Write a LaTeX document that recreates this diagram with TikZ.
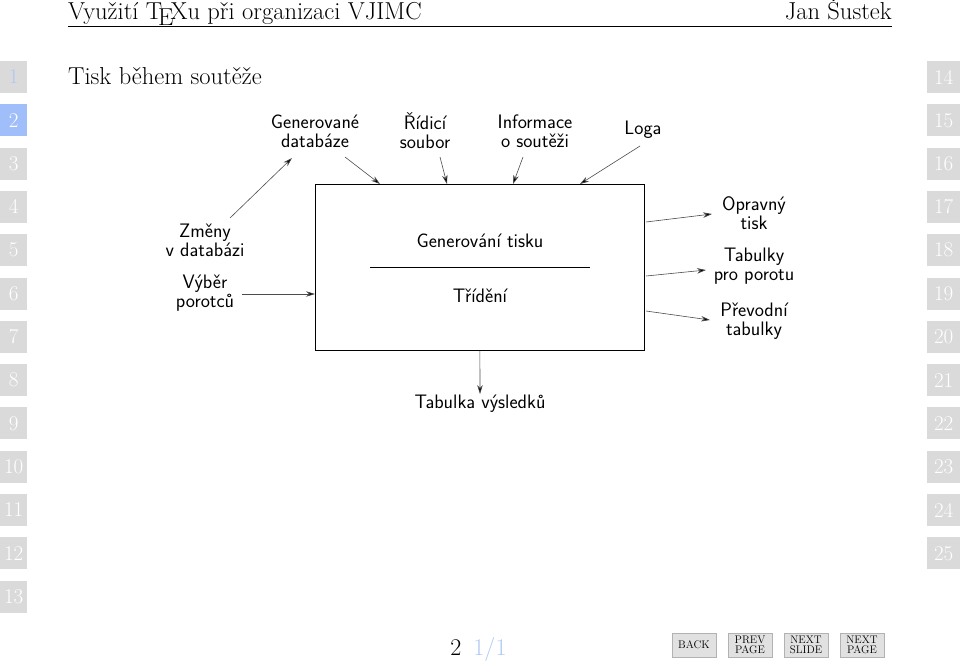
\documentclass[tikz,border=0pt]{standalone}
\usepackage{fontspec}
\usetikzlibrary{arrows.meta}
\definecolor{numgray}{RGB}{218,218,218}
\definecolor{numblue}{RGB}{160,190,250}
\definecolor{lblue}{RGB}{175,200,245}
\definecolor{btn}{RGB}{225,225,225}
\begin{document}
\begin{tikzpicture}[x=1pt,y=-1pt,
  lbl/.style={font=\sffamily\fontsize{19.5}{19}\selectfont,align=center,inner sep=1pt},
  arr/.style={draw=black!70,line width=0.6pt,-{Stealth[length=9pt,width=5.5pt,fill=black]}},
  numbox/.style={fill=numgray,minimum width=27pt,minimum height=32pt,inner sep=0pt,text=white,font=\fontsize{21}{21}\selectfont},
  navbtn/.style={fill=btn,draw=black!30,minimum width=44pt,minimum height=24pt,inner sep=0pt,align=center,font=\fontsize{11}{10.5}\selectfont}]
\useasboundingbox (0,0) rectangle (960,661);
% header
\node[anchor=base west,inner sep=0pt,font=\fontsize{24.5}{24}\selectfont] (hd) at (68,20) {Využití \TeX u při organizaci VJIMC};
\node[anchor=base east,inner sep=0pt,font=\fontsize{24.5}{24}\selectfont] (au) at (892,20) {Jan Šustek};
\draw[line width=0.6pt] (68,26) -- (892,26);
\node[anchor=base west,inner sep=0pt,font=\fontsize{24.5}{24}\selectfont] (ti) at (68,84) {Tisk během soutěže};
% line numbers
\foreach \i in {1,...,13}{
  \node[numbox,anchor=west] (l\i) at (0,{77+43.3*(\i-1)}) {\hfill\i\ };
}
\node[numbox,anchor=west,text=lblue] at (0,77) {\hfill 1\ };
\node[numbox,anchor=west,fill=numblue] at (0,120.3) {\hfill 2\ };
\foreach \i [evaluate=\i as \j using int(\i+13)] in {1,...,12}{
  \node[numbox,anchor=west,minimum width=33pt] (r\i) at (927,{77+43.3*(\i-1)}) {\j};
}
% diagram
\node[draw,line width=0.8pt,minimum width=329pt,minimum height=166pt,anchor=north west] (box) at (315,184) {};
\node[lbl] (gt) at (480,241) {Generování tisku};
\node[lbl] (tr) at (480,296) {Třídění};
\draw[line width=0.8pt] (370,267) -- (590,267);
\node[lbl] (gd) at (315,131) {Generované\\databáze};
\node[lbl] (rs) at (425,131) {Řídicí\\soubor};
\node[lbl] (io) at (535,131) {Informace\\o soutěži};
\node[lbl] (lo) at (643,130) {Loga};
\node[lbl] (zm) at (205,240) {Změny\\v databázi};
\node[lbl] (vp) at (205,293) {Výběr\\porotců};
\node[lbl] (ot) at (754,213) {Opravný\\tisk};
\node[lbl] (tp) at (754,266) {Tabulky\\pro porotu};
\node[lbl] (pt) at (754,321) {Převodní\\tabulky};
\node[lbl] (tv) at (480,404) {Tabulka výsledků};
\coordinate (zs) at (230,218);
\coordinate (vs) at (242,294);
\draw[arr] (zs) -- (292,158);
\draw[arr] (345,157) -- (380,184);
\draw[arr] (440,157) -- (447,184);
\draw[arr] (523,157) -- (513,184);
\draw[arr] (640,146) -- (580,184);
\draw[arr] (vs) -- (box.west |- vs);
\draw[arr] (646,222) -- (712,214);
\draw[arr] (646,276) -- (706,270);
\draw[arr] (646,311) -- (710,320);
\draw[arr] (box.south) -- (tv.north);
% footer
\node[anchor=base,inner sep=0pt,font=\fontsize{24}{24}\selectfont] (pg) at (456,655) {2};
\node[anchor=base,inner sep=0pt,font=\fontsize{24}{24}\selectfont,text=lblue] (pp) at (490,655) {1/1};
\node[navbtn] (b1) at (694,645) {BACK};
\node[navbtn] (b2) at (750,645) {PREV\\PAGE};
\node[navbtn] (b3) at (806,645) {NEXT\\SLIDE};
\node[navbtn] (b4) at (862,645) {NEXT\\PAGE};
\end{tikzpicture}
\end{document}
